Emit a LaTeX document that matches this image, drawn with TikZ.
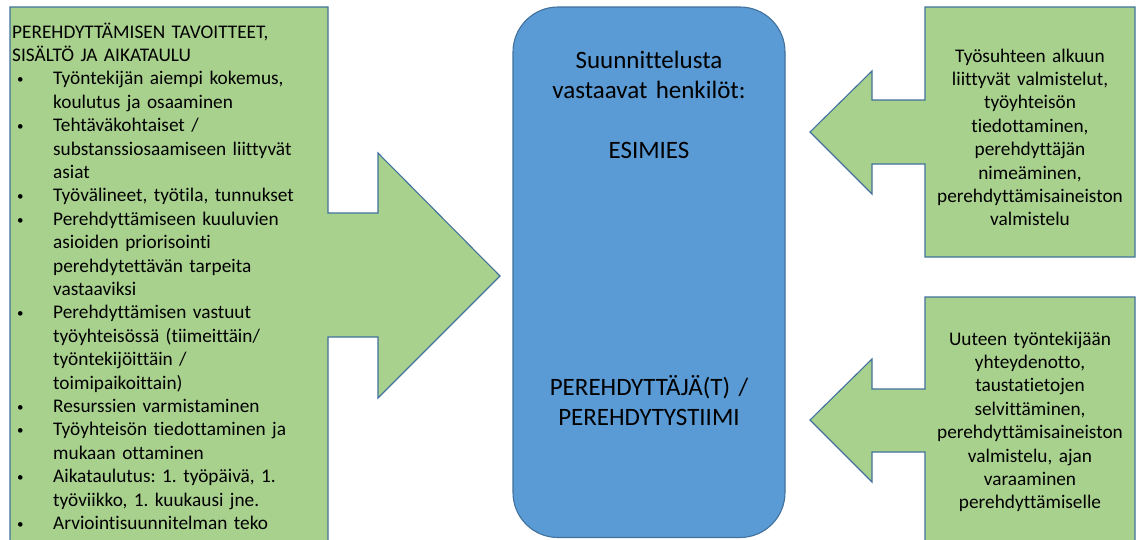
\documentclass[tikz,border=0pt]{standalone}
\usepackage{fontspec}
\setmainfont{Carlito}[Ligatures=NoCommon]
\setlength\parindent{0pt}
\frenchspacing
\definecolor{callgreen}{HTML}{A9D18E}
\definecolor{edgeblue}{HTML}{41719C}
\definecolor{boxblue}{HTML}{5B9BD5}
% bullet line and continuation line of the planning list
\newcommand\bulitem{\makebox[41pt][l]{\hspace{5pt}\raisebox{1pt}{\fontsize{13}{13}\selectfont\textbullet}}}
\newcommand\contline{\hspace*{41pt}}
\begin{document}
\begin{tikzpicture}[x=1pt,y=-1pt,
  callout/.style={fill=callgreen,draw=edgeblue,line width=1.1pt,line join=miter},
  planbox/.style={fill=boxblue,draw=edgeblue,line width=1.1pt,rounded corners=45pt},
  listtext/.style={anchor=north west,inner sep=0pt,text width=320pt,align=left,
    font=\fontsize{19.3}{23.4}\selectfont},
  sidetext/.style={anchor=north,inner sep=0pt,text width=205pt,align=center,
    font=\fontsize{19.3}{23.4}\selectfont},
  roletext/.style={anchor=north,inner sep=0pt,text width=260pt,align=center,
    font=\fontsize{25}{30}\selectfont}]
\clip (0,0) rectangle (1136,539);
\fill[white] (0,0) rectangle (1136,539);

% left callout pointing right
\draw[callout] (10,7) -- (328,7) -- (328,213) -- (378,213) -- (378,153)
  -- (500,276) -- (378,398) -- (378,337) -- (328,337) -- (328,560)
  -- (10,560) -- cycle;

% upper right callout pointing left
\draw[callout] (1135,7) -- (925,7) -- (925,100) -- (872,100) -- (872,71)
  -- (810,132) -- (872,194) -- (872,164) -- (925,164) -- (925,257)
  -- (1135,257) -- cycle;

% lower right callout pointing left
\draw[callout] (1135,297) -- (925,297) -- (925,389) -- (872,389) -- (872,359)
  -- (810,420) -- (872,482) -- (872,452) -- (925,452) -- (925,560)
  -- (1135,560) -- cycle;

% central box
\draw[planbox] (513,7) rectangle (785,537.5);

\node[listtext] (goals) at (12,21.6) {%
\strut PEREHDYTTÄMISEN TAVOITTEET,\\
SISÄLTÖ JA AIKATAULU\\
\bulitem Työntekijän aiempi kokemus,\\
\contline koulutus ja osaaminen\\
\bulitem Tehtäväkohtaiset /\\
\contline substanssiosaamiseen liittyvät\\
\contline asiat\\
\bulitem Työvälineet, työtila, tunnukset\\
\bulitem Perehdyttämiseen kuuluvien\\
\contline asioiden priorisointi\\
\contline perehdytettävän tarpeita\\
\contline vastaaviksi\\
\bulitem Perehdyttämisen vastuut\\
\contline työyhteisössä (tiimeittäin/\\
\contline työntekijöittäin /\\
\contline toimipaikoittain)\\
\bulitem Resurssien varmistaminen\\
\bulitem Työyhteisön tiedottaminen ja\\
\contline mukaan ottaminen\\
\bulitem Aikataulutus: 1. työpäivä, 1.\\
\contline työviikko, 1. kuukausi jne.\\
\bulitem Arviointisuunnitelman teko};

\node[roletext] (planners) at (649,47) {%
\strut Suunnittelusta\\
vastaavat henkilöt:\\[30pt]
ESIMIES};

\node[roletext] (mentors) at (649,374) {%
\strut PEREHDYTTÄJÄ(T) /\\
PEREHDYTYSTIIMI};

\node[sidetext] (prep) at (1030,45.6) {%
\strut Työsuhteen alkuun\\
liittyvät valmistelut,\\
työyhteisön\\
tiedottaminen,\\
perehdyttäjän\\
nimeäminen,\\
perehdyttämisaineiston\\
valmistelu};

\node[sidetext] (contact) at (1030,328.6) {%
\strut Uuteen työntekijään\\
yhteydenotto,\\
taustatietojen\\
selvittäminen,\\
perehdyttämisaineiston\\
valmistelu, ajan\\
varaaminen\\
perehdyttämiselle};
\end{tikzpicture}
\end{document}
